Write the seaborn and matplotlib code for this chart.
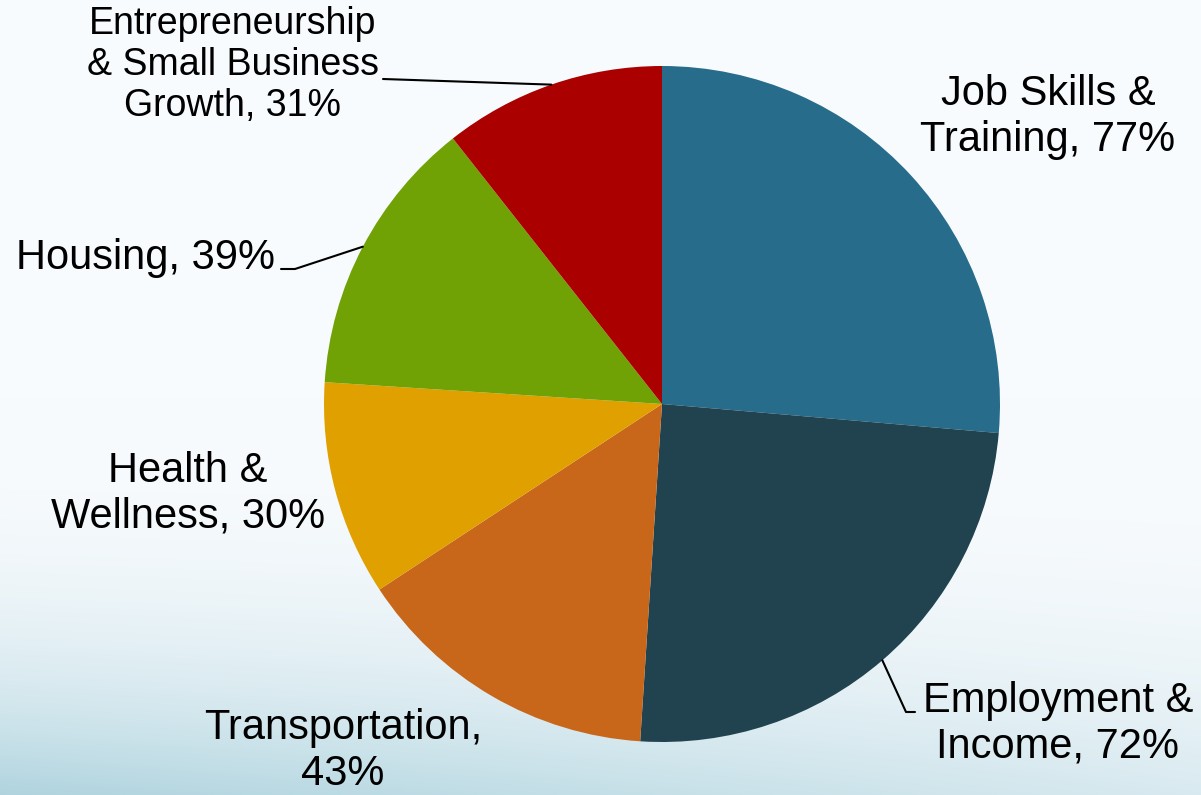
import numpy as np
import matplotlib
matplotlib.use("Agg")
import matplotlib.pyplot as plt
import seaborn as sns

# ---- data ----
categories = ["Job Skills & Training", "Employment & Income", "Transportation",
              "Health & Wellness", "Housing", "Entrepreneurship & Small Business Growth"]
label_texts = ["Job Skills &\nTraining, 77%", "Employment &\nIncome, 72%", "Transportation,\n43%",
               "Health &\nWellness, 30%", "Housing, 39%",
               "Entrepreneurship\n& Small Business\nGrowth, 31%"]
values = [77, 72, 43, 30, 39, 31]
colors = ["#276c8b", "#21424f", "#c8671a", "#e0a000", "#70a205", "#aa0000"]

sns.set_theme(style="white")
plt.rcParams['font.family'] = ['Liberation Sans', 'DejaVu Sans']

W, H = 1201, 795
fig = plt.figure(figsize=(W / 100, H / 100), dpi=100)

# background gradient (white top, pale blue toward bottom-left)
bg = fig.add_axes([0, 0, 1, 1], zorder=-10)
yy, xx = np.mgrid[0:H, 0:W]
u = xx / W
v = yy / H
t = np.clip((v - 0.5) / 0.5, 0, 1) ** 2.5 * (0.92 - 0.52 * u)
top = np.array([248, 251, 253]) / 255
bot = np.array([169, 208, 220]) / 255
img = top[None, None, :] * (1 - t[..., None]) + bot[None, None, :] * t[..., None]
bg.imshow(img, aspect="auto", extent=[0, W, H, 0])
bg.axis("off")

ax = fig.add_axes([0, 0, 1, 1])
ax.patch.set_alpha(0)
cx, cy, r = 662, H - 404, 338
wedges, _ = ax.pie(values, colors=colors, startangle=90, counterclock=False,
                   center=(cx, cy), radius=r, wedgeprops=dict(linewidth=0))
ax.set_xlim(0, W)
ax.set_ylim(0, H)
ax.set_aspect("equal")
ax.axis("off")

fs = 30
placements = {
    0: dict(xy=(1048, 117), size=fs, ls=1.17, leader=None),
    1: dict(xy=(1058, 724), size=fs, ls=1.17, leader=[(915, 712), (906, 712)]),
    2: dict(xy=(343, 751), size=fs, ls=1.17, leader=None),
    3: dict(xy=(188, 494), size=fs, ls=1.17, leader=None),
    4: dict(xy=(145, 258), size=fs, ls=1.17, leader=[(281, 269), (295, 269)]),
    5: dict(xy=(233, 65), size=27, ls=1.19, leader=[(383, 79)]),
}

for i, w in enumerate(wedges):
    p = placements[i]
    x, y = p["xy"]
    ax.text(x, H - y, label_texts[i], ha="center", va="center", fontsize=p["size"],
            color="black", linespacing=p["ls"])
    if p["leader"]:
        mid = np.deg2rad((w.theta1 + w.theta2) / 2)
        ex, ey = cx + r * np.cos(mid), cy + r * np.sin(mid)
        pts = [(a, H - b) for a, b in p["leader"]] + [(ex, ey)]
        ax.plot([q[0] for q in pts], [q[1] for q in pts], color="black", lw=1.5)

fig.savefig("out.png", dpi=100)
